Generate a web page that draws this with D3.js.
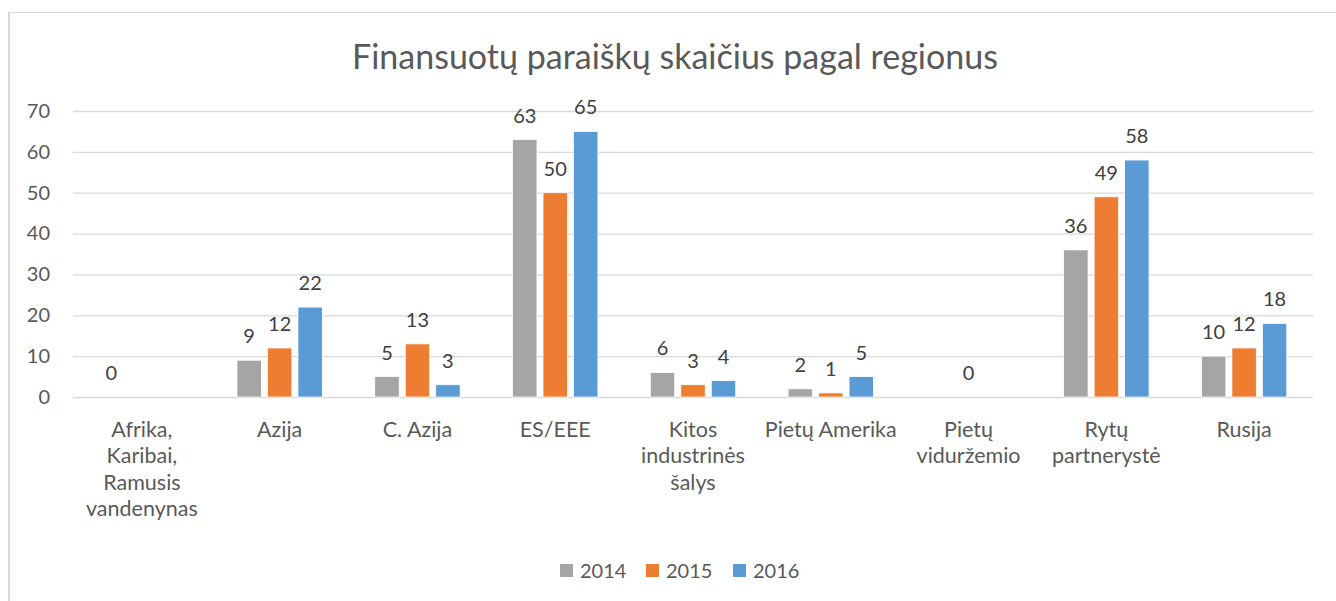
<!DOCTYPE html>
<html>
<head>
<meta charset="utf-8">
<script src="https://cdn.jsdelivr.net/npm/d3@7"></script>
<style>
  body { margin: 0; background: #fff; }
  svg text { font-family: Lato, "Open Sans", sans-serif; }
</style>
</head>
<body>
<div class="container"></div>
<script>
const categories = [
  "Afrika,\nKaribai,\nRamusis\nvandenynas",
  "Azija",
  "C. Azija",
  "ES/EEE",
  "Kitos\nindustrinės\nšalys",
  "Pietų Amerika",
  "Pietų\nviduržemio",
  "Rytų\npartnerystė",
  "Rusija"
];
const series = ["2014", "2015", "2016"];
const values2014 = [0, 9, 5, 63, 6, 2, null, 36, 10];
const values2015 = [null, 12, 13, 50, 3, 1, 0, 49, 12];
const values2016 = [null, 22, 3, 65, 4, 5, null, 58, 18];
const yTicks = [0, 10, 20, 30, 40, 50, 60, 70];
const colors = ["#a5a5a5", "#ed7d31", "#5b9bd5"];
const title = "Finansuotų paraiškų skaičius pagal regionus";

const w = 1336;
const h = 601;
const plot = {left: 73, right: 1313, top: 111, bottom: 397};

const dataset = categories.map((c, i) => ({
  category: c,
  vals: [values2014[i], values2015[i], values2016[i]]
}));

const svg = d3.select(".container")
              .append("svg")
              .attr("width", w)
              .attr("height", h);

// chart border (right and bottom are cut off in the picture)
svg.append("line").attr("x1", 9).attr("x2", w).attr("y1", 12.5).attr("y2", 12.5)
   .attr("stroke", "#d9d9d9").attr("stroke-width", 1);
svg.append("line").attr("x1", 9).attr("x2", 9).attr("y1", 12).attr("y2", h)
   .attr("stroke", "#d9d9d9").attr("stroke-width", 2);

svg.append("text")
   .attr("x", 675)
   .attr("y", 69)
   .attr("text-anchor", "middle")
   .attr("fill", "#595959")
   .style("font-size", "34px")
   .text(title);

const x0 = d3.scaleBand()
             .domain(categories)
             .range([plot.left, plot.right]);

const x1 = d3.scaleBand()
             .domain(series)
             .range([0, x0.bandwidth()])
             .paddingInner(0.2)
             .paddingOuter(0.86);

const yScale = d3.scaleLinear()
                 .domain([0, 70])
                 .range([plot.bottom, plot.top]);

// gridlines
const yAxis = d3.axisLeft(yScale)
                .tickValues(yTicks)
                .tickSize(-(plot.right - plot.left))
                .tickPadding(23);
const gy = svg.append("g")
              .attr("transform", "translate(" + plot.left + ",0)")
              .call(yAxis);
gy.select(".domain").remove();
gy.selectAll("line").attr("stroke", "#d9d9d9").attr("stroke-width", 1.3);
gy.selectAll("text")
  .attr("fill", "#595959")
  .style("font-size", "20px")
  .style("font-family", "Lato, sans-serif");

// bars
const groups = svg.selectAll(".group")
                  .data(dataset)
                  .enter()
                  .append("g")
                  .attr("class", "group")
                  .attr("transform", d => "translate(" + x0(d.category) + ",0)");

const cells = groups.selectAll("g.bar")
  .data(d => d.vals.map((v, i) => ({key: series[i], value: v, color: colors[i]})).filter(e => e.value !== null))
  .enter()
  .append("g")
  .attr("class", "bar");

cells.append("rect")
     .attr("x", d => x1(d.key))
     .attr("y", d => yScale(d.value))
     .attr("width", x1.bandwidth())
     .attr("height", d => plot.bottom - yScale(d.value))
     .attr("fill", d => d.color)
     .attr("stroke", "#fff")
     .attr("stroke-width", 0.75);

cells.append("text")
     .attr("x", d => x1(d.key) + x1.bandwidth() / 2)
     .attr("y", d => yScale(d.value) - 17)
     .attr("text-anchor", "middle")
     .attr("fill", "#404040")
     .style("font-size", "20px")
     .text(d => d.value);

// category labels
const xAxis = d3.axisBottom(x0).tickSize(0).tickFormat("");
svg.append("g")
   .attr("transform", "translate(0," + plot.bottom + ")")
   .call(xAxis)
   .select(".domain").remove();

const catLabels = svg.selectAll(".cat")
  .data(categories)
  .enter()
  .append("text")
  .attr("class", "cat")
  .attr("text-anchor", "middle")
  .attr("fill", "#595959")
  .style("font-size", "21.5px");
catLabels.selectAll("tspan")
  .data(c => c.split("\n").map(t => ({c: c, t: t})))
  .enter()
  .append("tspan")
  .attr("x", d => x0(d.c) + x0.bandwidth() / 2)
  .attr("y", (d, i) => 437 + i * 26.3)
  .text(d => d.t);

// legend
const legendX = [560, 646, 733];
const legend = svg.append("g").attr("id", "legend");
legend.selectAll("rect")
      .data(series)
      .enter()
      .append("rect")
      .attr("x", (s, i) => legendX[i])
      .attr("y", 564)
      .attr("width", 13)
      .attr("height", 13)
      .attr("fill", (s, i) => colors[i]);
legend.selectAll("text")
      .data(series)
      .enter()
      .append("text")
      .attr("x", (s, i) => legendX[i] + 20)
      .attr("y", 578)
      .attr("fill", "#595959")
      .style("font-size", "20px")
      .text(s => s);
</script>
</body>
</html>
